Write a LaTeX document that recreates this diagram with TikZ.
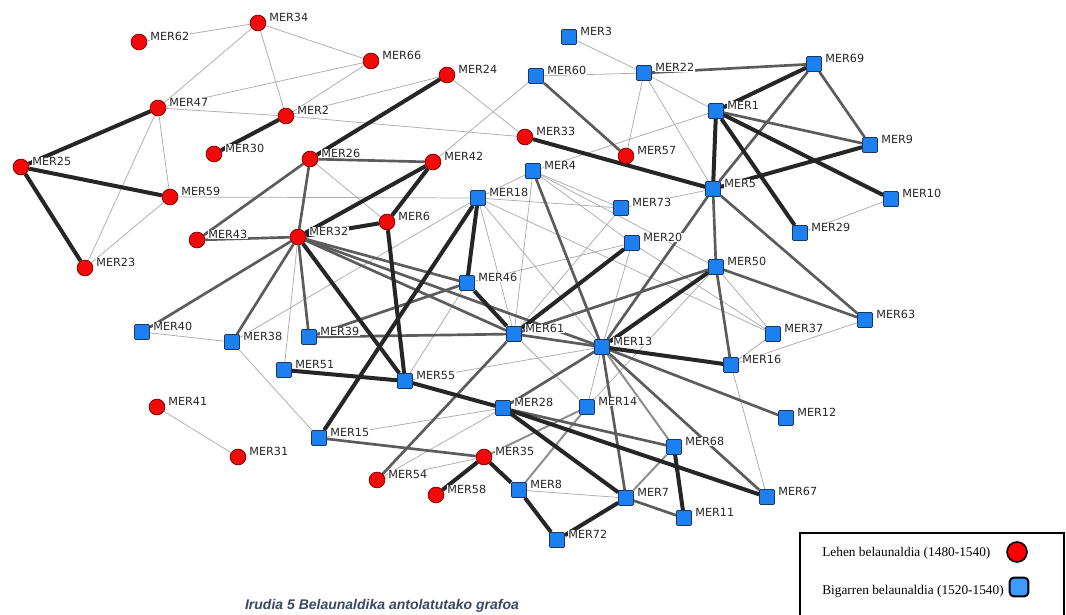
\documentclass[tikz,border=0pt]{standalone}
\usepackage{fontspec}
\setmainfont{Liberation Serif}
\newfontfamily\lblfamily{DejaVu Sans}
\newfontfamily\capfamily{Liberation Sans}
\usetikzlibrary{calc}
\pgfdeclarelayer{bgwhite}
\pgfdeclarelayer{edges}
\pgfsetlayers{bgwhite,edges,main}
\definecolor{nred}{HTML}{F00A0A}
\definecolor{nredd}{HTML}{8C0000}
\definecolor{nblue}{HTML}{1C80F0}
\definecolor{nblued}{HTML}{1A3560}
\definecolor{ethin}{HTML}{ABABAB}
\definecolor{emed}{HTML}{5C5C5C}
\definecolor{emedl}{HTML}{8E8E8E}
\definecolor{ethick}{HTML}{262626}
\definecolor{capcol}{HTML}{3B4763}
\definecolor{legblue}{HTML}{3D9BFF}
\tikzset{
  rnode/.style={circle, fill=nred, draw=nredd, line width=0.6pt, minimum size=11.8pt, inner sep=0pt},
  bnode/.style={rectangle, fill=nblue, draw=nblued, line width=0.6pt, minimum size=11.2pt, inner sep=0pt, rounded corners=0.8pt},
  lbl/.style={font=\lblfamily\fontsize{8.4pt}{10pt}\selectfont, fill=white, inner sep=0.5pt, anchor=base west, text=black!85},
  et/.style={draw=ethin, line width=0.55pt},
  em/.style={draw=emed, line width=2pt},
  eml/.style={draw=emedl, line width=1.5pt},
  ek/.style={draw=ethick, line width=3pt},
  legtext/.style={font=\fontsize{10pt}{12pt}\selectfont, anchor=base west, inner sep=0pt},
}
\newcommand\RN[4]{\node[rnode] (#1) at (#2,#3) {}; \node[lbl] (#1t) at ([shift={(10.5,-1.5)}]#1.center) {#4};}
\newcommand\BN[4]{\node[bnode] (#1) at (#2,#3) {}; \node[lbl] (#1t) at ([shift={(10.5,-1.5)}]#1.center) {#4};}
\newcommand\E[3]{\draw[#1] (#2) -- (#3);}
\begin{document}
\begin{tikzpicture}[x=0.75pt,y=-0.75pt]
\clip (0,0) rectangle (1066,614);
\useasboundingbox (0,0) rectangle (1066,614);
\begin{pgfonlayer}{bgwhite}
\fill[white] (0,0) rectangle (1066,614);
\end{pgfonlayer}
% red nodes
\RN{m34}{258}{23}{MER34}
\RN{m62}{139}{42}{MER62}
\RN{m66}{371}{61}{MER66}
\RN{m24}{447}{75}{MER24}
\RN{m47}{158}{108}{MER47}
\RN{m2}{286}{116}{MER2}
\RN{m30}{214}{154}{MER30}
\RN{m26}{310}{159}{MER26}
\RN{m42}{433}{162}{MER42}
\RN{m33}{525}{137}{MER33}
\RN{m57}{626}{156}{MER57}
\RN{m25}{21}{167}{MER25}
\RN{m59}{170}{197}{MER59}
\RN{m6}{387}{222}{MER6}
\RN{m43}{197}{240}{MER43}
\RN{m32}{298}{237}{MER32}
\RN{m23}{85}{268}{MER23}
\RN{m41}{157}{407}{MER41}
\RN{m31}{238}{457}{MER31}
\RN{m35}{484}{457}{MER35}
\RN{m54}{377}{480}{MER54}
\RN{m58}{436}{495}{MER58}
% blue nodes
\BN{m3}{569}{37}{MER3}
\BN{m60}{536}{76}{MER60}
\BN{m22}{644}{73}{MER22}
\BN{m69}{814}{64}{MER69}
\BN{m1}{716}{111}{MER1}
\BN{m9}{870}{145}{MER9}
\BN{m4}{533}{171}{MER4}
\BN{m18}{478}{198}{MER18}
\BN{m73}{621}{208}{MER73}
\BN{m5}{713}{189}{MER5}
\BN{m10}{891}{199}{MER10}
\BN{m29}{800}{233}{MER29}
\BN{m20}{632}{243}{MER20}
\BN{m50}{716}{267}{MER50}
\BN{m46}{467}{283}{MER46}
\BN{m40}{142}{332}{MER40}
\BN{m38}{232}{342}{MER38}
\BN{m39}{309}{337}{MER39}
\BN{m61}{514}{334}{MER61}
\BN{m13}{602}{347}{MER13}
\BN{m37}{773}{334}{MER37}
\BN{m63}{865}{320}{MER63}
\BN{m16}{731}{365}{MER16}
\BN{m51}{284}{370}{MER51}
\BN{m55}{405}{381}{MER55}
\BN{m28}{503}{408}{MER28}
\BN{m14}{587}{407}{MER14}
\BN{m12}{786}{418}{MER12}
\BN{m15}{319}{438}{MER15}
\BN{m68}{674}{447}{MER68}
\BN{m8}{519}{490}{MER8}
\BN{m7}{626}{498}{MER7}
\BN{m67}{767}{497}{MER67}
\BN{m11}{684}{518}{MER11}
\BN{m72}{557}{540}{MER72}
\begin{pgfonlayer}{edges}
% thin
\E{et}{m62}{m34} \E{et}{m34}{m47} \E{et}{m34}{m2} \E{et}{m34}{m66}
\E{et}{m47}{m66} \E{et}{m2}{m66} \E{et}{m2}{m24} \E{et}{m47}{m2}
\E{et}{m2}{m33} \E{et}{m47}{m59} \E{et}{m47}{m23} \E{et}{m59}{m23}
\E{et}{m59}{m18} \E{et}{m26}{m6} \E{et}{m32}{m51} \E{et}{m24}{m33}
\E{et}{m60}{m42} \E{et}{m60}{m22} \E{et}{m3}{m22} \E{et}{m22}{m57}
\E{et}{m22}{m5} \E{et}{m22}{m1} \E{et}{m4}{m1} \E{et}{m4}{m18}
\E{et}{m4}{m73} \E{et}{m4}{m61} \E{et}{m4}{m20} \E{et}{m4}{m50}
\E{et}{m18}{m73} \E{et}{m18}{m61} \E{et}{m18}{m13} \E{et}{m18}{m38}
\E{et}{m18}{m37} \E{et}{m73}{m5} \E{et}{m73}{m61} \E{et}{m46}{m20}
\E{et}{m46}{m55} \E{et}{m20}{m37} \E{et}{m20}{m13} \E{et}{m50}{m37}
\E{et}{m50}{m14} \E{et}{m37}{m16} \E{et}{m16}{m63} \E{et}{m16}{m67}
\E{et}{m10}{m29} \E{et}{m61}{m14} \E{et}{m55}{m13} \E{et}{m13}{m14}
\E{et}{m28}{m15} \E{et}{m28}{m54} \E{et}{m35}{m54} \E{et}{m8}{m7}
\E{et}{m40}{m38} \E{et}{m38}{m15} \E{et}{m41}{m31}
% light medium
\E{eml}{m13}{m68} \E{eml}{m7}{m68} \E{eml}{m14}{m35} \E{eml}{m14}{m8}
% medium
\E{em}{m26}{m42} \E{em}{m26}{m43} \E{em}{m26}{m32} \E{em}{m43}{m32}
\E{em}{m32}{m40} \E{em}{m32}{m38} \E{em}{m32}{m39} \E{em}{m32}{m46}
\E{em}{m32}{m61} \E{em}{m32}{m13} \E{em}{m39}{m46} \E{em}{m39}{m61}
\E{em}{m61}{m13} \E{em}{m61}{m54} \E{em}{m61}{m50} \E{em}{m4}{m13}
\E{em}{m60}{m57} \E{em}{m22}{m69} \E{em}{m69}{m9} \E{em}{m69}{m5}
\E{em}{m1}{m9} \E{em}{m5}{m50} \E{em}{m5}{m63} \E{em}{m5}{m13}
\E{em}{m50}{m16} \E{em}{m50}{m63} \E{em}{m13}{m12} \E{em}{m13}{m67}
\E{em}{m13}{m7} \E{em}{m13}{m28} \E{em}{m28}{m68} \E{em}{m15}{m35}
\E{em}{m7}{m11}
% thick
\E{ek}{m47}{m25} \E{ek}{m25}{m59} \E{ek}{m25}{m23} \E{ek}{m2}{m30}
\E{ek}{m24}{m26} \E{ek}{m42}{m32} \E{ek}{m42}{m6} \E{ek}{m6}{m32}
\E{ek}{m6}{m55} \E{ek}{m32}{m55} \E{ek}{m33}{m5} \E{ek}{m18}{m46}
\E{ek}{m18}{m15} \E{ek}{m46}{m61} \E{ek}{m61}{m20} \E{ek}{m13}{m50}
\E{ek}{m13}{m16} \E{ek}{m51}{m55} \E{ek}{m55}{m28} \E{ek}{m28}{m7}
\E{ek}{m28}{m67} \E{ek}{m35}{m58} \E{ek}{m35}{m8} \E{ek}{m8}{m72}
\E{ek}{m7}{m72} \E{ek}{m68}{m11} \E{ek}{m1}{m69} \E{ek}{m1}{m10}
\E{ek}{m1}{m29} \E{ek}{m1}{m5} \E{ek}{m5}{m9}
\end{pgfonlayer}
% legend
\draw[line width=1.5pt, fill=white] (800,533) rectangle (1064,640);
\node[legtext] (leg1) at (822,556) {Lehen belaunaldia (1480-1540)};
\node[legtext] (leg2) at (822,594) {Bigarren belaunaldia (1520-1540)};
\node[circle, fill=red, draw=black, line width=1.2pt, minimum size=15pt, inner sep=0pt] (legr) at (1017,552) {};
\node[rectangle, rounded corners=3pt, fill=legblue, draw=black, line width=1.5pt, minimum size=14pt, inner sep=0pt] (legb) at (1019,587) {};
% caption
\node[font=\capfamily\bfseries\itshape\fontsize{10.5pt}{12pt}\selectfont, text=capcol, anchor=base, inner sep=0pt] (cap) at (382,609) {Irudia 5 Belaunaldika antolatutako grafoa};
\end{tikzpicture}
\end{document}
